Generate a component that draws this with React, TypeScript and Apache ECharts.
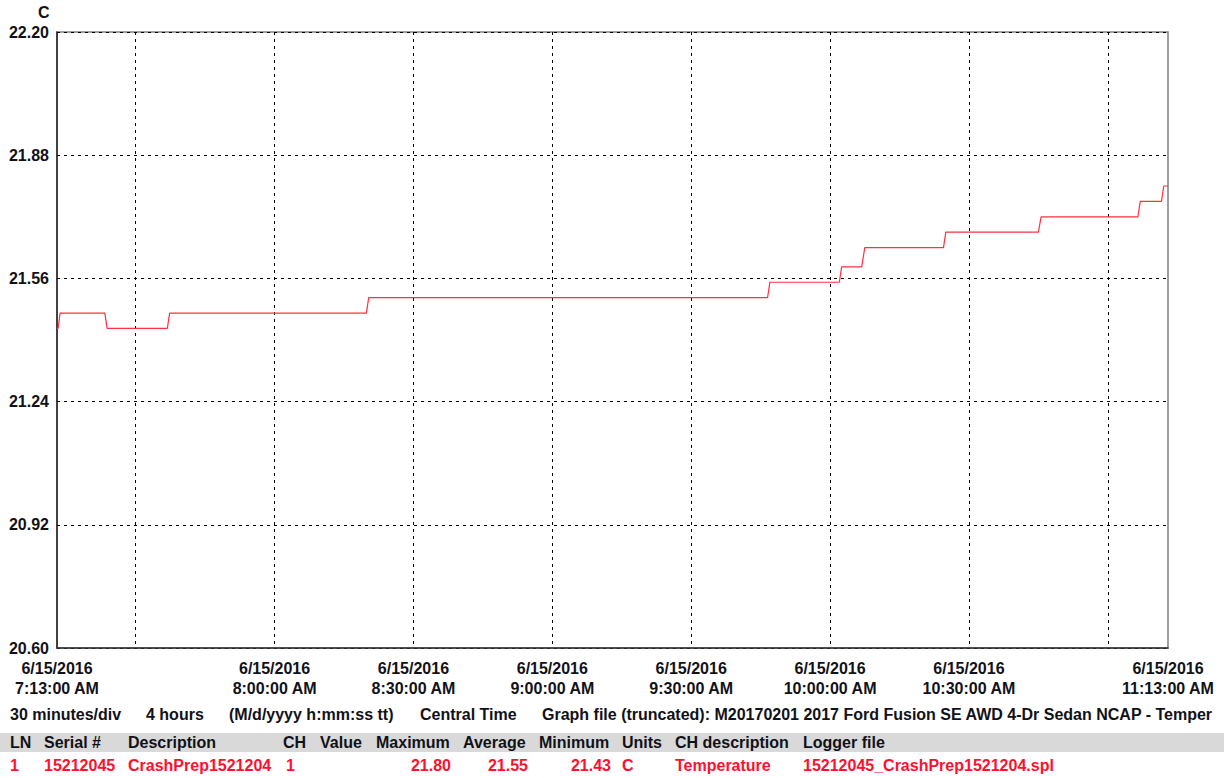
import React, { useEffect, useRef } from "react";
import * as echarts from "echarts";

// ---- data ----
const sampleTimes: string[] = [
  "7:13:00", "7:13:15", "7:13:40", "7:23:20", "7:23:50", "7:36:50", "7:37:20",
  "8:19:50", "8:20:20", "9:46:30", "9:47:00", "10:02:00", "10:02:30",
  "10:06:50", "10:07:30", "10:24:30", "10:25:00", "10:45:00", "10:45:35",
  "11:06:30", "11:07:00", "11:11:35", "11:12:05", "11:13:00",
];
const temperatures: number[] = [
  21.43, 21.43, 21.47, 21.47, 21.43, 21.43, 21.47,
  21.47, 21.51, 21.51, 21.55, 21.55, 21.59,
  21.59, 21.64, 21.64, 21.68, 21.68, 21.72,
  21.72, 21.76, 21.76, 21.80, 21.80,
];
const yTicks: number[] = [20.6, 20.92, 21.24, 21.56, 21.88, 22.2];
const xGridTimes: string[] = ["7:30:00", "8:00:00", "8:30:00", "9:00:00", "9:30:00", "10:00:00", "10:30:00", "11:00:00"];
const xLabelTimes: string[] = ["7:13:00", "8:00:00", "8:30:00", "9:00:00", "9:30:00", "10:00:00", "10:30:00", "11:13:00"];
const startTime = "7:13:00";
const endTime = "11:13:00";
const dateLabel = "6/15/2016";
const unitLabel = "C";

const footerItems: string[] = [
  "30 minutes/div",
  "4 hours",
  "(M/d/yyyy h:mm:ss tt)",
  "Central Time",
  "Graph file (truncated): M20170201 2017 Ford Fusion SE AWD 4-Dr Sedan NCAP - Temper",
];
const tableHeaders: string[] = ["LN", "Serial #", "Description", "CH", "Value", "Maximum", "Average", "Minimum", "Units", "CH description", "Logger file"];
const tableRow: string[] = ["1", "15212045", "CrashPrep1521204", "1", "", "21.80", "21.55", "21.43", "C", "Temperature", "15212045_CrashPrep1521204.spl"];

// ---- layout (positions only) ----
const footerX = [10, 146, 229, 420, 542];
const headerX = [10, 44, 128, 283, 320, 376, 463, 539, 622, 675, 803];
const rowX = [10, 44, 128, 286, 320, 451, 528, 611, 622, 675, 803];
const rowRightAligned = [false, false, false, false, false, true, true, true, false, false, false];

const toMin = (t: string) => {
  const [h, m, s] = t.split(":").map(Number);
  return h * 60 + m + (s || 0) / 60;
};
const fmtTime = (v: number) => {
  const totalSec = Math.round(v * 60);
  let h = Math.floor(totalSec / 3600);
  const m = Math.floor((totalSec % 3600) / 60);
  const s = totalSec % 60;
  const ampm = h >= 12 ? "PM" : "AM";
  const h12 = h % 12 === 0 ? 12 : h % 12;
  return `${h12}:${String(m).padStart(2, "0")}:${String(s).padStart(2, "0")} ${ampm}`;
};

const FONT = "Liberation Sans, Arial, sans-serif";
const TEXT = "#111118";
const RED = "#ff1030";

export default function App() {
  const ref = useRef<HTMLDivElement>(null);
  useEffect(() => {
    if (!ref.current) return;
    const chart = echarts.init(ref.current, undefined, { renderer: "svg" });
    const data = sampleTimes.map((t, i) => [toMin(t), temperatures[i]]);

    const graphics: any[] = [];
    graphics.push({
      type: "text", left: 38, top: 4,
      style: { text: unitLabel, font: `bold 16px ${FONT}`, fill: TEXT },
    });
    footerItems.forEach((t, i) => {
      graphics.push({
        type: "text", x: footerX[i], y: 714,
        style: { text: t, font: `bold 16px ${FONT}`, fill: TEXT, verticalAlign: "middle" },
      });
    });
    graphics.push({
      type: "rect", shape: { x: 0, y: 733, width: 1224, height: 19 },
      style: { fill: "#d9d9d9" }, z: -1,
    });
    tableHeaders.forEach((t, i) => {
      graphics.push({
        type: "text", x: headerX[i], y: 742,
        style: { text: t, font: `bold 16px ${FONT}`, fill: TEXT, verticalAlign: "middle" },
      });
    });
    tableRow.forEach((t, i) => {
      if (!t) return;
      graphics.push({
        type: "text", x: rowX[i], y: 765,
        style: {
          text: t, font: `bold 16px ${FONT}`, fill: RED, verticalAlign: "middle",
          align: rowRightAligned[i] ? "right" : "left",
        },
      });
    });

    chart.setOption({
      animation: false,
      backgroundColor: "#ffffff",
      grid: {
        left: 57, top: 32, right: 64, bottom: 130,
        show: true, borderColor: "#808080", borderWidth: 1.5,
        backgroundColor: "transparent",
      },
      xAxis: {
        type: "value",
        min: toMin(startTime),
        max: toMin(endTime),
        axisLine: { show: true, lineStyle: { color: "#333", width: 1.5 } },
        axisTick: { show: false, customValues: xGridTimes.map(toMin) },
        splitLine: { show: true, lineStyle: { color: "#000", type: [3, 4], width: 1 } },
        axisLabel: {
          customValues: xLabelTimes.map(toMin),
          formatter: (v: number) => `${dateLabel}\n${fmtTime(v)}`,
          hideOverlap: false,
          showMinLabel: true,
          showMaxLabel: true,
          margin: 10,
          lineHeight: 20,
          fontFamily: FONT, fontWeight: "bold", fontSize: 16, color: TEXT,
        },
      },
      yAxis: {
        type: "value",
        min: yTicks[0],
        max: yTicks[yTicks.length - 1],
        axisLine: { show: true, lineStyle: { color: "#222", width: 1.5 } },
        axisTick: { show: false, customValues: yTicks },
        splitLine: { show: true, lineStyle: { color: "#000", type: [3, 4], width: 1 } },
        axisLabel: {
          customValues: yTicks,
          formatter: (v: number) => v.toFixed(2),
          margin: 8,
          fontFamily: FONT, fontWeight: "bold", fontSize: 16, color: TEXT,
        },
      },
      series: [
        {
          type: "line",
          data,
          showSymbol: false,
          symbol: "none",
          lineStyle: { color: "#ff3040", width: 1.2 },
          silent: true,
        },
      ],
      graphic: graphics,
    });
    return () => chart.dispose();
  }, []);
  return (
    <div
      ref={ref}
      style={{ position: "absolute", left: 0, top: 0, width: 1232, height: 778, background: "#fff" }}
    />
  );
}
